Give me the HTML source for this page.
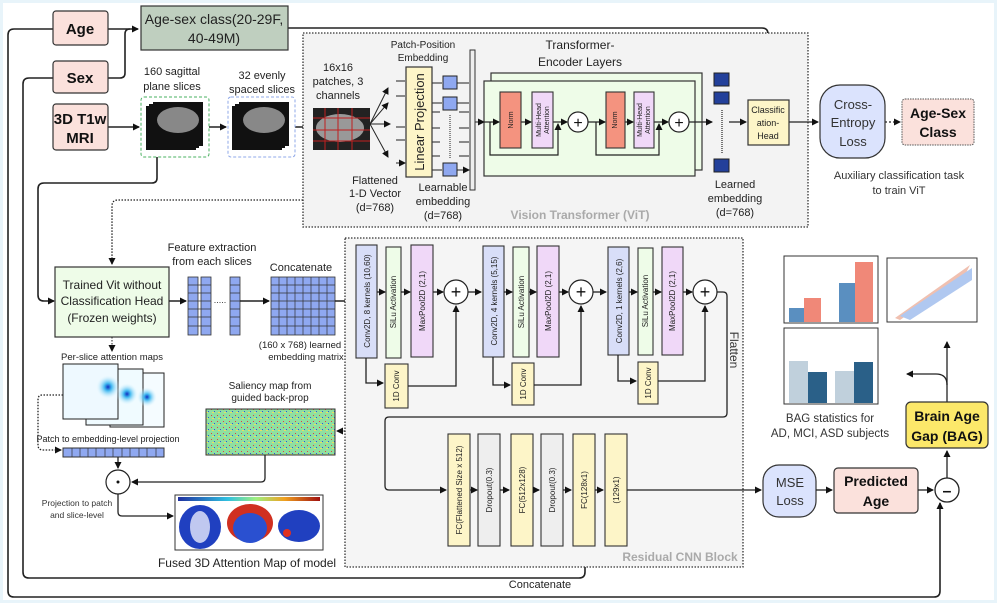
<!DOCTYPE html>
<html><head><meta charset="utf-8"><style>
html,body{margin:0;padding:0;background:#fff}
svg{display:block;font-family:"Liberation Sans",sans-serif}
</style></head><body>
<svg width="997" height="603" viewBox="0 0 997 603" xmlns="http://www.w3.org/2000/svg">
<defs>
<marker id="a" markerWidth="8" markerHeight="8" refX="6" refY="4" orient="auto" markerUnits="userSpaceOnUse"><path d="M0,0.5 L7,4 L0,7.5z" fill="#111"/></marker>
<linearGradient id="cb" x1="0" x2="1"><stop offset="0" stop-color="#2030a0"/><stop offset=".35" stop-color="#30c0e0"/><stop offset=".55" stop-color="#a0f080"/><stop offset=".75" stop-color="#f0a020"/><stop offset="1" stop-color="#a01010"/></linearGradient>
<radialGradient id="att"><stop offset="0" stop-color="#1030c0"/><stop offset=".3" stop-color="#40b8f0"/><stop offset="1" stop-color="#eafaff" stop-opacity="0"/></radialGradient>
<pattern id="sal" width="6" height="6" patternUnits="userSpaceOnUse"><rect width="6" height="6" fill="#8fe0a0"/><rect x="1" y="1" width="1" height="1" fill="#e04040"/><rect x="4" y="3" width="1" height="1" fill="#3050e0"/><rect x="2" y="4" width="2" height="1" fill="#e8e060"/></pattern>
</defs>
<rect x="0" y="0" width="997" height="603" fill="#e8f4fa"/>
<rect x="3" y="3" width="991" height="597" fill="#fff"/>
<g stroke="#222" stroke-width="1.6" fill="none">
<!-- outer lines -->
<path d="M53,29 H14 Q8,29 8,35 V591 Q8,597 14,597 H934 Q940,597 940,591 V503" marker-end="url(#a)"/>
<path d="M53,78 H29 Q23,78 23,84 V572 Q23,578 29,578 H579 Q585,578 585,572 V548" marker-end="url(#a)"/>
<path d="M108,29 H138" marker-end="url(#a)"/>
<path d="M108,78 H120 Q125,78 125,73 V34 Q125,29 130,29"/>
<path d="M288,28 H762 Q768,28 768,34 V98" marker-end="url(#a)"/>
<path d="M108,127 H139" marker-end="url(#a)"/>
<path d="M209,127 H226" marker-end="url(#a)"/>
<path d="M295,127 H312" marker-end="url(#a)"/>
<path d="M157,157 V178 Q157,183 152,183 H44 Q38,183 38,189 V295 Q38,301 44,301 H54" marker-end="url(#a)"/>
</g>
<!-- left input boxes -->
<g stroke="#333" stroke-width="1.2" fill="#fbe1dc">
<rect x="53" y="11" width="55" height="34" rx="3"/>
<rect x="53" y="61" width="55" height="32" rx="3"/>
<rect x="53" y="104" width="55" height="46" rx="3"/>
</g>
<g font-weight="bold" font-size="15" text-anchor="middle" fill="#111">
<text x="80" y="34">Age</text><text x="80" y="83">Sex</text>
<text x="80" y="124">3D T1w</text><text x="80" y="143">MRI</text>
</g>
<rect x="141" y="6" width="147" height="44" fill="#bfcfbf" stroke="#333" stroke-width="1.2"/>
<text x="214" y="24" font-size="14" text-anchor="middle" fill="#222">Age-sex class(20-29F,</text>
<text x="214" y="43" font-size="14" text-anchor="middle" fill="#222">40-49M)</text>
<!-- slices -->
<g font-size="11" text-anchor="middle" fill="#222">
<text x="172" y="75">160 sagittal</text><text x="172" y="90">plane slices</text>
<text x="262" y="79">32 evenly</text><text x="262" y="93">spaced slices</text>
</g>
<rect x="141" y="97" width="68" height="60" rx="3" fill="none" stroke="#4ab060" stroke-dasharray="3,2"/>
<rect x="228" y="97" width="67" height="60" rx="3" fill="none" stroke="#8fa8e8" stroke-dasharray="3,2"/>
<g fill="#111"><rect x="146" y="106" width="50" height="44"/><rect x="149" y="104" width="50" height="44"/><rect x="153" y="102" width="50" height="44"/>
<rect x="232" y="106" width="50" height="44"/><rect x="235" y="104" width="50" height="44"/><rect x="239" y="102" width="50" height="44"/></g>
<ellipse cx="178" cy="120" rx="21" ry="13" fill="#888"/><ellipse cx="264" cy="120" rx="21" ry="13" fill="#888"/>
<!-- ViT region -->
<rect x="303" y="33" width="505" height="194" fill="#f3f3f3" stroke="#333" stroke-width="1.3" stroke-dasharray="1.5,1.5"/>
<g font-size="11" text-anchor="middle" fill="#222">
<text x="338" y="71">16x16</text><text x="338" y="85">patches, 3</text><text x="338" y="99">channels</text>
<text x="375" y="184">Flattened</text><text x="375" y="197">1-D Vector</text><text x="375" y="211">(d=768)</text>
<text x="423" y="48" font-size="10">Patch-Position</text><text x="423" y="61" font-size="10">Embedding</text>
<text x="443" y="191">Learnable</text><text x="443" y="205">embedding</text><text x="443" y="219">(d=768)</text>
<text x="580" y="49" font-size="12">Transformer-</text><text x="580" y="66" font-size="12">Encoder Layers</text>
<text x="735" y="188">Learned</text><text x="735" y="202">embedding</text><text x="735" y="216">(d=768)</text>
</g>
<text x="580" y="219" font-size="12" font-weight="bold" fill="#aaa" text-anchor="middle">Vision Transformer (ViT)</text>
<rect x="313" y="108" width="57" height="42" fill="#222"/><ellipse cx="340" cy="128" rx="24" ry="14" fill="#999"/>
<g stroke="#c02020" stroke-width="1"><path d="M313,118H370M313,130H370M313,141H370M325,108V150M338,108V150M352,108V150"/></g>
<g stroke="#222" stroke-width="1" fill="none">
<path d="M370,124 L388,88" marker-end="url(#a)"/><path d="M370,124 L388,103" marker-end="url(#a)"/><path d="M370,124 L390,124" marker-end="url(#a)"/><path d="M370,124 L388,157" marker-end="url(#a)"/>
<path d="M396,81H405M396,96H405M396,127H405M396,140H405M396,163H405" marker-end="url(#a)"/>
<path d="M432,83H442M432,103H442M432,170H442M432,112H440M432,128H440M432,142H440M432,156H440"/>
<path d="M457,83H469M457,103H469M459,112H469M459,128H469M459,142H469M459,156H469M457,170H469" marker-end="url(#a)"/>
<path d="M450,115V158" stroke-dasharray="1,1"/>
<path d="M475,122H484" marker-end="url(#a)"/>
</g>
<rect x="406" y="67" width="26" height="110" fill="#fdf5c8" stroke="#333" stroke-width="1.2"/>
<text transform="translate(424,122) rotate(-90)" font-size="13" text-anchor="middle" fill="#222">Linear Projection</text>
<g fill="#8fa8f0" stroke="#222"><rect x="443" y="76" width="14" height="13"/><rect x="443" y="97" width="14" height="13"/><rect x="443" y="163" width="14" height="13"/></g>
<rect x="470" y="50" width="5" height="140" fill="#eee" stroke="#333"/>
<!-- encoder -->
<rect x="491" y="73" width="211" height="97" fill="#eefce8" stroke="#333" stroke-width="1.2"/>
<rect x="484" y="81" width="211" height="95" fill="#eefce8" stroke="#333" stroke-width="1.2"/>
<g stroke="#222" stroke-width="1.2" fill="none">
<path d="M484,122H499" marker-end="url(#a)"/><path d="M521,122H531" marker-end="url(#a)"/><path d="M553,122H567" marker-end="url(#a)"/>
<path d="M490,122V155H558V124" marker-end="url(#a)"/>
<path d="M588,122H605" marker-end="url(#a)"/><path d="M625,122H633" marker-end="url(#a)"/><path d="M654,122H668" marker-end="url(#a)"/>
<path d="M596,122V155H659V124" marker-end="url(#a)"/>
<path d="M689,122H712" marker-end="url(#a)"/><path d="M729,122H746" marker-end="url(#a)"/>
<path d="M722,110V153" stroke-dasharray="1,1"/>
<path d="M789,122H818" marker-end="url(#a)"/><path d="M885,122H900" stroke-dasharray="2,2" marker-end="url(#a)"/>
</g>
<g stroke="#333" stroke-width="1.1">
<rect x="500" y="92" width="21" height="56" fill="#f4937f"/><rect x="532" y="92" width="21" height="56" fill="#f0d8f8"/>
<rect x="606" y="92" width="19" height="56" fill="#f4937f"/><rect x="634" y="92" width="20" height="56" fill="#f0d8f8"/>
</g>
<g font-size="7" text-anchor="middle" fill="#222">
<text transform="translate(513,120) rotate(-90)">Norm</text><text transform="translate(617,120) rotate(-90)">Norm</text>
<text transform="translate(541,120) rotate(-90)">Multi-Head</text><text transform="translate(549,120) rotate(-90)">Attention</text>
<text transform="translate(642,120) rotate(-90)">Multi-Head</text><text transform="translate(650,120) rotate(-90)">Attention</text>
</g>
<g fill="#fff" stroke="#222" stroke-width="1.2"><circle cx="578" cy="122" r="10"/><circle cx="679" cy="122" r="10"/></g>
<g font-size="16" text-anchor="middle" fill="#111"><text x="578" y="128">+</text><text x="679" y="128">+</text></g>
<g fill="#23409a" stroke="#222"><rect x="714" y="73" width="15" height="13"/><rect x="714" y="92" width="15" height="12"/><rect x="714" y="159" width="15" height="13"/></g>
<rect x="748" y="100" width="41" height="45" fill="#fdf5c8" stroke="#333" stroke-width="1.2"/>
<g font-size="9" text-anchor="middle" fill="#222"><text x="768" y="113">Classific</text><text x="768" y="126">ation-</text><text x="768" y="139">Head</text></g>
<rect x="820" y="85" width="65" height="73" rx="20" fill="#dbe3fd" stroke="#333" stroke-width="1.2"/>
<g font-size="13" text-anchor="middle" fill="#333"><text x="853" y="109">Cross-</text><text x="853" y="127">Entropy</text><text x="853" y="146">Loss</text></g>
<rect x="902" y="99" width="72" height="46" rx="3" fill="#fbe1dc" stroke="#555" stroke-dasharray="1.5,1"/>
<g font-size="14" font-weight="bold" text-anchor="middle" fill="#111"><text x="938" y="118">Age-Sex</text><text x="938" y="137">Class</text></g>
<g font-size="11" text-anchor="middle" fill="#333"><text x="899" y="179">Auxiliary classification task</text><text x="899" y="194">to train ViT</text></g>
<!-- lower left -->
<path d="M303,200 H118 Q112,200 112,206 V264" fill="none" stroke="#222" stroke-width="1.3" stroke-dasharray="1.5,1.5" marker-end="url(#a)"/>
<rect x="55" y="267" width="114" height="70" fill="#eefce8" stroke="#333" stroke-width="1.2"/>
<g font-size="12" text-anchor="middle" fill="#222"><text x="112" y="289">Trained Vit without</text><text x="112" y="305">Classification Head</text><text x="112" y="322">(Frozen weights)</text></g>
<g font-size="11" text-anchor="middle" fill="#222"><text x="212" y="251">Feature extraction</text><text x="212" y="265">from each slices</text><text x="301" y="271">Concatenate</text>
<text x="300" y="348" font-size="9.5">(160 x 768) learned</text><text x="306" y="360" font-size="9.5">embedding matrix</text></g>
<g fill="#8fa8f0" stroke="#333" stroke-width="0.8">
<rect x="188" y="277" width="10" height="58"/><rect x="201" y="277" width="10" height="58"/><rect x="230" y="277" width="10" height="58"/>
<rect x="271" y="277" width="64" height="58"/>
</g>
<g stroke="#333" stroke-width="0.7"><path d="M188,285H211M188,293H211M188,301H211M188,309H211M188,317H211M188,326H211M230,285H240M230,293H240M230,301H240M230,309H240M230,317H240M230,326H240"/>
<path d="M279,277V335M287,277V335M295,277V335M303,277V335M311,277V335M319,277V335M327,277V335M271,285H335M271,293H335M271,301H335M271,309H335M271,317H335M271,326H335"/></g>
<text x="220" y="303" font-size="9" fill="#333" text-anchor="middle">.....</text>
<g stroke="#222" stroke-width="1.4" fill="none">
<path d="M169,301H186" marker-end="url(#a)"/><path d="M240,301H269" marker-end="url(#a)"/><path d="M335,301H354" marker-end="url(#a)"/>
</g>
<path d="M112,337V351" stroke="#222" stroke-dasharray="1.5,1.5" marker-end="url(#a)"/>
<text x="112" y="360" font-size="9.5" text-anchor="middle" fill="#222">Per-slice attention maps</text>
<rect x="110" y="373" width="54" height="54" fill="#f5fcff" stroke="#222"/>
<rect x="86" y="369" width="57" height="56" fill="#f0fbff" stroke="#222"/>
<rect x="63" y="364" width="55" height="55" fill="#eef9ff" stroke="#222"/>
<circle cx="147" cy="397" r="10" fill="url(#att)"/><circle cx="127" cy="394" r="11" fill="url(#att)"/><circle cx="108" cy="387" r="12" fill="url(#att)"/>
<path d="M63,395 H42 Q38,395 38,400 V445 Q38,450 43,450 H61" fill="none" stroke="#222" stroke-width="1.3" stroke-dasharray="1.5,1.5" marker-end="url(#a)"/>
<text x="108" y="442" font-size="9" text-anchor="middle" fill="#222">Patch to embedding-level projection</text>
<rect x="63" y="448" width="101" height="9" fill="#8fa8f0" stroke="#333"/>
<path d="M72,448V457M80,448V457M88,448V457M96,448V457M105,448V457M113,448V457M122,448V457M130,448V457M139,448V457M147,448V457M156,448V457" stroke="#333" stroke-width="0.7"/>
<text x="270" y="389" font-size="10" text-anchor="middle" fill="#222">Saliency map from</text><text x="270" y="401" font-size="10" text-anchor="middle" fill="#222">guided back-prop</text>
<rect x="206" y="409" width="129" height="46" fill="url(#sal)" stroke="#333"/>
<path d="M345,431H337" stroke="#222" stroke-width="1.3" stroke-dasharray="1.5,1.5" fill="none" marker-end="url(#a)"/>
<g stroke="#222" stroke-width="1.3" fill="none">
<path d="M118,457V468" marker-end="url(#a)"/>
<path d="M265,455V478Q265,482 261,482H132" marker-end="url(#a)"/>
<path d="M118,494V512Q118,516 122,516H173" marker-end="url(#a)"/>
</g>
<circle cx="118" cy="482" r="12" fill="#fff" stroke="#222" stroke-width="1.2"/><circle cx="118" cy="482" r="1.5" fill="#111"/>
<g font-size="8.5" text-anchor="middle" fill="#333"><text x="77" y="506">Projection to patch</text><text x="77" y="518">and slice-level</text></g>
<rect x="175" y="495" width="148" height="55" fill="#fff" stroke="#333"/>
<rect x="178" y="497" width="142" height="4" fill="url(#cb)"/>
<ellipse cx="200" cy="527" rx="21" ry="22" fill="#2040c0"/><ellipse cx="200" cy="527" rx="10" ry="16" fill="#c0c8f0"/>
<ellipse cx="250" cy="523" rx="23" ry="19" fill="#d03020"/><ellipse cx="250" cy="528" rx="17" ry="15" fill="#2a50d0"/>
<ellipse cx="299" cy="526" rx="21" ry="16" fill="#2040c0"/><circle cx="287" cy="533" r="4" fill="#e03020"/>
<text x="247" y="567" font-size="12" text-anchor="middle" fill="#222">Fused 3D Attention Map of model</text>
<!-- CNN block -->
<rect x="345" y="238" width="398" height="329" fill="#f5f5f5" stroke="#333" stroke-width="1.3" stroke-dasharray="1.5,1.5"/>
<text x="680" y="561" font-size="12" font-weight="bold" fill="#aaa" text-anchor="middle">Residual CNN Block</text>
<text transform="translate(730,350) rotate(90)" font-size="12" text-anchor="middle" fill="#333">Flatten</text>
<g stroke="#333" stroke-width="1.1">
<rect x="356" y="245" width="21" height="113" fill="#d8def8"/><rect x="386" y="247" width="15" height="111" fill="#eefce8"/><rect x="411" y="245" width="22" height="112" fill="#f0d8f8"/>
<rect x="483" y="246" width="21" height="111" fill="#d8def8"/><rect x="513" y="247" width="16" height="110" fill="#eefce8"/><rect x="537" y="246" width="22" height="111" fill="#f0d8f8"/>
<rect x="608" y="247" width="21" height="108" fill="#d8def8"/><rect x="638" y="248" width="15" height="107" fill="#eefce8"/><rect x="662" y="247" width="21" height="108" fill="#f0d8f8"/>
<rect x="385" y="364" width="23" height="44" fill="#fdf5c8"/><rect x="512" y="363" width="22" height="42" fill="#fdf5c8"/><rect x="638" y="362" width="20" height="42" fill="#fdf5c8"/>
<rect x="448" y="434" width="22" height="112" fill="#fdf5c8"/><rect x="478" y="434" width="22" height="112" fill="#eeeeee"/><rect x="511" y="434" width="22" height="112" fill="#fdf5c8"/>
<rect x="541" y="434" width="22" height="112" fill="#eeeeee"/><rect x="573" y="434" width="22" height="112" fill="#fdf5c8"/><rect x="605" y="434" width="22" height="112" fill="#fdf5c8"/>
</g>
<g font-size="8" text-anchor="middle" fill="#222">
<text transform="translate(370,301) rotate(-90)">Conv2D, 8 kernels (10,60)</text><text transform="translate(396,302) rotate(-90)">SiLu Activation</text><text transform="translate(425,301) rotate(-90)">MaxPool2D (2,1)</text>
<text transform="translate(497,301) rotate(-90)">Conv2D, 4 kernels (5,15)</text><text transform="translate(524,302) rotate(-90)">SiLu Activation</text><text transform="translate(551,301) rotate(-90)">MaxPool2D (2,1)</text>
<text transform="translate(622,301) rotate(-90)">Conv2D, 1 kernels (2,6)</text><text transform="translate(648,301) rotate(-90)">SiLu Activation</text><text transform="translate(675,301) rotate(-90)">MaxPool2D (2,1)</text>
<text transform="translate(399,386) rotate(-90)">1D Conv</text><text transform="translate(526,384) rotate(-90)">1D Conv</text><text transform="translate(651,383) rotate(-90)">1D Conv</text>
<text transform="translate(462,490) rotate(-90)">FC(Flattened Size x 512)</text><text transform="translate(492,490) rotate(-90)">Dropout(0.3)</text>
<text transform="translate(525,490) rotate(-90)">FC(512x128)</text><text transform="translate(555,490) rotate(-90)">Dropout(0.3)</text>
<text transform="translate(587,490) rotate(-90)">FC(128x1)</text><text transform="translate(619,490) rotate(-90)">(129x1)</text>
</g>
<g stroke="#222" stroke-width="1.3" fill="none">
<path d="M377,292H385" marker-end="url(#a)"/><path d="M401,292H410" marker-end="url(#a)"/><path d="M433,292H443" marker-end="url(#a)"/><path d="M468,292H481" marker-end="url(#a)"/>
<path d="M504,292H512" marker-end="url(#a)"/><path d="M529,292H536" marker-end="url(#a)"/><path d="M559,292H568" marker-end="url(#a)"/><path d="M593,292H606" marker-end="url(#a)"/>
<path d="M629,292H637" marker-end="url(#a)"/><path d="M653,292H661" marker-end="url(#a)"/><path d="M683,292H692" marker-end="url(#a)"/>
<path d="M366,358V383H383" marker-end="url(#a)"/><path d="M408,386H456V306" marker-end="url(#a)"/>
<path d="M493,357V385H510" marker-end="url(#a)"/><path d="M534,385H581V306" marker-end="url(#a)"/>
<path d="M618,355V381H636" marker-end="url(#a)"/><path d="M658,381H705V306" marker-end="url(#a)"/>
<path d="M717,292H723Q727,292 727,296V413Q727,417 723,417H389Q385,417 385,421V486Q385,490 389,490H446" marker-end="url(#a)"/>
<path d="M470,490H477" marker-end="url(#a)"/><path d="M500,490H509" marker-end="url(#a)"/><path d="M533,490H539" marker-end="url(#a)"/><path d="M563,490H571" marker-end="url(#a)"/><path d="M595,490H603" marker-end="url(#a)"/>
<path d="M627,490H761" marker-end="url(#a)"/>
</g>
<g fill="#fff" stroke="#222" stroke-width="1.2"><circle cx="456" cy="292" r="12"/><circle cx="581" cy="292" r="12"/><circle cx="705" cy="292" r="12"/></g>
<g font-size="18" text-anchor="middle" fill="#111"><text x="456" y="298">+</text><text x="581" y="298">+</text><text x="705" y="298">+</text></g>
<text x="540" y="588" font-size="11" text-anchor="middle" fill="#222">Concatenate</text>
<!-- right bottom -->
<rect x="763" y="465" width="53" height="52" rx="16" fill="#dbe3fd" stroke="#333" stroke-width="1.2"/>
<g font-size="13" text-anchor="middle" fill="#333"><text x="790" y="487">MSE</text><text x="790" y="505">Loss</text></g>
<rect x="834" y="468" width="84" height="45" rx="4" fill="#fbe1dc" stroke="#333" stroke-width="1.2"/>
<g font-size="14" font-weight="bold" text-anchor="middle" fill="#111"><text x="876" y="486">Predicted</text><text x="876" y="506">Age</text></g>
<g stroke="#222" stroke-width="1.3" fill="none">
<path d="M816,490H832" marker-end="url(#a)"/><path d="M918,490H933" marker-end="url(#a)"/>
<path d="M947,478V451" marker-end="url(#a)"/><path d="M947,402V342" marker-end="url(#a)"/>
<path d="M947,385Q947,374 936,374H907" marker-end="url(#a)"/>
</g>
<circle cx="947" cy="490" r="12" fill="#fff" stroke="#222" stroke-width="1.3"/>
<text x="947" y="496" font-size="16" font-weight="bold" text-anchor="middle" fill="#111">–</text>
<rect x="906" y="402" width="82" height="46" rx="5" fill="#fce86a" stroke="#333" stroke-width="1.2"/>
<g font-size="14" font-weight="bold" text-anchor="middle" fill="#111"><text x="947" y="421">Brain Age</text><text x="947" y="441">Gap (BAG)</text></g>
<!-- charts -->
<rect x="784" y="256" width="94" height="67" fill="#fff" stroke="#333"/>
<rect x="789" y="308" width="15" height="14" fill="#5a8fc0"/><rect x="804" y="298" width="17" height="24" fill="#f08878"/>
<rect x="839" y="283" width="16" height="39" fill="#5a8fc0"/><rect x="855" y="262" width="18" height="60" fill="#f08878"/>
<rect x="887" y="258" width="90" height="64" fill="#fff" stroke="#333"/>
<path d="M895,318 L970,265 L965,275 L900,320z" fill="#f0c0b0"/><path d="M900,316 L972,268 L972,280 L910,320z" fill="#b0c8f0"/>
<rect x="784" y="328" width="94" height="76" fill="#fff" stroke="#333"/>
<rect x="789" y="361" width="19" height="42" fill="#c0d0dc"/><rect x="808" y="372" width="19" height="31" fill="#2a6088"/>
<rect x="835" y="371" width="19" height="32" fill="#c0d0dc"/><rect x="854" y="362" width="19" height="41" fill="#2a6088"/>
<g font-size="11.5" text-anchor="middle" fill="#333"><text x="830" y="422">BAG statistics for</text><text x="830" y="437">AD, MCI, ASD subjects</text></g>
</svg>
</body></html>
